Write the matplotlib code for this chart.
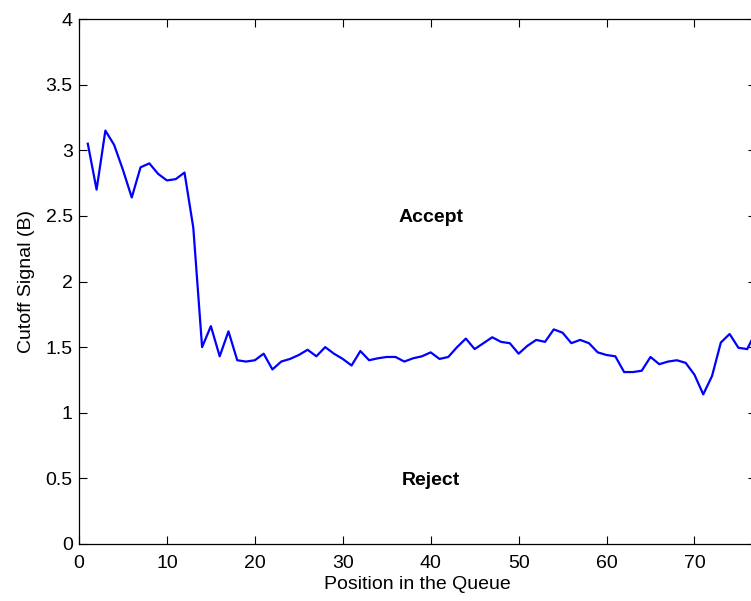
import matplotlib
matplotlib.use("Agg")
import matplotlib.pyplot as plt
import numpy as np

plt.rcParams["font.family"] = ["Liberation Sans", "DejaVu Sans"]

# Cutoff signal at each queue position
positions = list(range(1, 78))
cutoff = [
    3.05, 2.70, 3.15, 3.04, 2.85, 2.64, 2.87, 2.90, 2.82, 2.77,
    2.78, 2.83, 2.41, 1.50, 1.66, 1.43, 1.62, 1.40, 1.39, 1.40,
    1.45, 1.33, 1.39, 1.41, 1.44, 1.48, 1.43, 1.50, 1.45, 1.41,
    1.36, 1.47, 1.40, 1.415, 1.425, 1.425, 1.39, 1.415, 1.43, 1.46,
    1.41, 1.425, 1.50, 1.565, 1.485, 1.53, 1.575, 1.54, 1.53, 1.45,
    1.51, 1.555, 1.54, 1.635, 1.61, 1.53, 1.555, 1.53, 1.46, 1.44,
    1.43, 1.31, 1.31, 1.32, 1.425, 1.37, 1.39, 1.40, 1.38, 1.29,
    1.14, 1.28, 1.535, 1.60, 1.495, 1.485, 1.62,
]

xticks = [0, 10, 20, 30, 40, 50, 60, 70]
yticks = [0, 0.5, 1, 1.5, 2, 2.5, 3, 3.5, 4]
ytick_labels = ["0", "0.5", "1", "1.5", "2", "2.5", "3", "3.5", "4"]

FS = 14

fig = plt.figure(figsize=(7.51, 6.01), dpi=100)
# the right border runs just past the figure edge
ax = fig.add_axes([79 / 751, 57 / 601, 677 / 751, 525 / 601])

ax.plot(positions, cutoff, color=(0, 0, 1), linewidth=1.6)

ax.set_xlim(0, 77)
ax.set_ylim(0, 4)
ax.set_xticks(xticks)
ax.set_yticks(yticks)
ax.set_yticklabels(ytick_labels)

ax.tick_params(direction="in", length=6, width=0.8, top=True, right=True,
               labelsize=FS, colors="black")
ax.tick_params(axis="x", pad=8)
ax.tick_params(axis="y", pad=4.5)
for s in ax.spines.values():
    s.set_linewidth(0.9)

ax.set_xlabel("Position in the Queue", fontsize=FS, labelpad=3)
ax.set_ylabel("Cutoff Signal (B)", fontsize=FS, labelpad=8)

ax.text(40, 2.5, "Accept", fontsize=FS, fontweight="bold",
        ha="center", va="center_baseline")
ax.text(40, 0.5, "Reject", fontsize=FS, fontweight="bold",
        ha="center", va="center_baseline")

fig.savefig("out.png", dpi=100)
